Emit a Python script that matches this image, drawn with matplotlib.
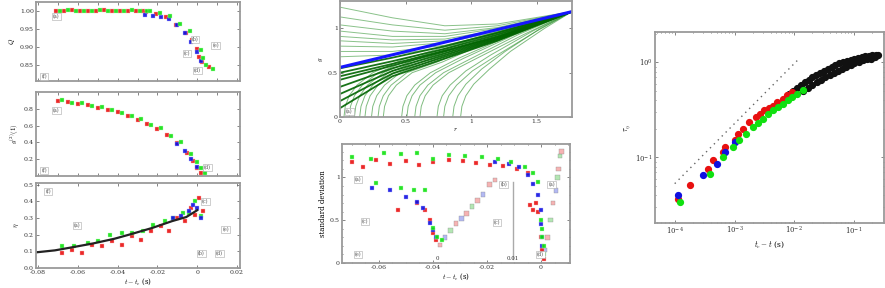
import matplotlib
matplotlib.use("Agg")
import matplotlib.pyplot as plt
import numpy as np

plt.rcParams['font.family'] = 'DejaVu Serif'
plt.rcParams['mathtext.fontset'] = 'cm'

# ---- left column, panel 1
p1_x = [-0.071, -0.067, -0.063, -0.059, -0.055, -0.051, -0.047, -0.043, -0.039,
        -0.035, -0.031, -0.027, -0.0255, -0.0205, -0.0155, -0.0105, -0.0055,
        -0.0025, 0.0, 0.001, 0.0025, 0.006]
p1_red = [1.001, 1.0, 1.002, 1.0, 1.001, 1.0, 1.002, 1.0, 1.001, 1.0, 1.001, 1.0,
          0.998, 0.992, 0.983, 0.962, 0.94, 0.92, 0.893, 0.873, 0.857, 0.843]
p1_green = [1.0, 1.002, 1.0, 1.001, 1.0, 1.002, 1.0, 1.001, 1.0, 1.002, 1.0, 1.001,
            0.999, 0.995, 0.985, 0.965, 0.944, 0.918, 0.89, 0.868, 0.85, 0.838]
p1_blue_x = [-0.026, -0.022, -0.018, -0.014, -0.01, -0.006, -0.003, 0.0, 0.002]
p1_blue = [0.99, 0.985, 0.983, 0.978, 0.962, 0.94, 0.915, 0.887, 0.86]

# ---- left column, panel 2
p2_x = [-0.07, -0.065, -0.06, -0.055, -0.05, -0.045, -0.04, -0.035, -0.03, -0.025,
        -0.02, -0.015, -0.01, -0.005, -0.002, 0.0, 0.002]
p2_red = [0.89, 0.88, 0.86, 0.84, 0.81, 0.79, 0.76, 0.72, 0.67, 0.62, 0.56, 0.49,
          0.39, 0.27, 0.18, 0.1, 0.04]
p2_green = [0.9, 0.87, 0.87, 0.83, 0.82, 0.78, 0.75, 0.71, 0.68, 0.61, 0.57, 0.48,
            0.4, 0.26, 0.17, 0.09, 0.03]
p2_blue_x = [-0.01, -0.006, -0.003, 0.0]
p2_blue = [0.38, 0.3, 0.2, 0.11]

# ---- left column, panel 3
p3_line_x = [-0.081, -0.0715, -0.063, -0.0525, -0.0415, -0.0325, -0.0225, -0.0125,
             -0.0055, 0.0]
p3_line_y = [0.094, 0.106, 0.124, 0.147, 0.176, 0.206, 0.241, 0.282, 0.306, 0.347]
p3_red_x = [-0.068, -0.063, -0.058, -0.053, -0.048, -0.043, -0.038, -0.033, -0.028,
            -0.023, -0.018, -0.014, -0.01, -0.006, -0.003, -0.001, 0.001, 0.003]
p3_red = [0.09, 0.11, 0.09, 0.14, 0.13, 0.16, 0.14, 0.19, 0.17, 0.22, 0.25, 0.22,
          0.3, 0.28, 0.36, 0.32, 0.42, 0.34]
p3_green_x = [-0.068, -0.062, -0.055, -0.05, -0.044, -0.038, -0.033, -0.027, -0.022,
              -0.016, -0.012, -0.007, -0.004, -0.001, 0.002]
p3_green = [0.13, 0.13, 0.15, 0.16, 0.2, 0.21, 0.21, 0.22, 0.26, 0.28, 0.3, 0.33,
            0.33, 0.4, 0.31]
p3_blue_x = [-0.012, -0.008, -0.004, -0.002, 0.0, 0.002]
p3_blue = [0.3, 0.31, 0.34, 0.38, 0.36, 0.3]

# ---- middle top: model curves
blue_x = [0.0, 1.77]
blue_y = [0.56, 1.19]
upper_x = [0.0, 0.4, 0.8, 1.2, 1.77]
upper_y = [[1.24, 1.12, 1.03, 1.05, 1.19],
           [1.13, 1.04, 0.98, 1.03, 1.19],
           [1.04, 0.97, 0.94, 1.01, 1.19],
           [0.97, 0.91, 0.91, 1.00, 1.19],
           [0.91, 0.87, 0.88, 0.98, 1.19],
           [0.86, 0.83, 0.86, 0.97, 1.19],
           [0.80, 0.79, 0.84, 0.96, 1.19],
           [0.74, 0.74, 0.81, 0.95, 1.19],
           [0.68, 0.70, 0.79, 0.94, 1.19]]
mid_y = [[0.55, 0.67, 0.80, 0.95, 1.19],
         [0.50, 0.63, 0.77, 0.93, 1.19],
         [0.46, 0.60, 0.75, 0.91, 1.19],
         [0.42, 0.58, 0.74, 0.90, 1.19],
         [0.34, 0.55, 0.72, 0.89, 1.19],
         [0.26, 0.52, 0.70, 0.88, 1.19],
         [0.18, 0.49, 0.68, 0.87, 1.19],
         [0.10, 0.46, 0.66, 0.86, 1.19]]
lower_x = [[0.03, 0.04, 0.07, 0.13, 0.25, 0.48, 1.0, 1.77],
           [0.07, 0.08, 0.11, 0.17, 0.29, 0.52, 1.0, 1.77],
           [0.11, 0.12, 0.15, 0.21, 0.33, 0.56, 1.0, 1.77],
           [0.15, 0.16, 0.19, 0.25, 0.37, 0.60, 1.05, 1.77],
           [0.19, 0.20, 0.23, 0.29, 0.41, 0.64, 1.05, 1.77],
           [0.24, 0.25, 0.28, 0.34, 0.46, 0.69, 1.10, 1.77],
           [0.29, 0.30, 0.33, 0.39, 0.51, 0.74, 1.10, 1.77],
           [0.33, 0.34, 0.37, 0.43, 0.55, 0.78, 1.15, 1.77],
           [0.47, 0.48, 0.51, 0.57, 0.69, 0.90, 1.30, 1.77],
           [0.51, 0.52, 0.55, 0.61, 0.73, 0.94, 1.32, 1.77],
           [0.57, 0.58, 0.61, 0.67, 0.79, 1.00, 1.36, 1.77],
           [0.61, 0.62, 0.65, 0.71, 0.83, 1.04, 1.40, 1.77],
           [0.74, 0.75, 0.78, 0.84, 0.96, 1.15, 1.47, 1.77],
           [0.79, 0.80, 0.83, 0.89, 1.01, 1.20, 1.50, 1.77],
           [0.86, 0.87, 0.90, 0.96, 1.08, 1.26, 1.53, 1.77],
           [0.92, 0.93, 0.96, 1.02, 1.14, 1.30, 1.56, 1.77]]
lower_y = [[0, 0.12, 0.24, 0.36, 0.50, 0.65, 0.88, 1.19],
           [0, 0.12, 0.24, 0.36, 0.50, 0.64, 0.87, 1.19],
           [0, 0.12, 0.24, 0.36, 0.50, 0.64, 0.86, 1.19],
           [0, 0.12, 0.24, 0.36, 0.50, 0.64, 0.86, 1.19],
           [0, 0.12, 0.24, 0.36, 0.50, 0.63, 0.85, 1.19],
           [0, 0.12, 0.24, 0.36, 0.50, 0.63, 0.86, 1.19],
           [0, 0.12, 0.24, 0.36, 0.50, 0.62, 0.85, 1.19],
           [0, 0.12, 0.24, 0.36, 0.50, 0.62, 0.86, 1.19],
           [0, 0.12, 0.24, 0.36, 0.50, 0.66, 0.92, 1.19],
           [0, 0.12, 0.24, 0.36, 0.50, 0.66, 0.92, 1.19],
           [0, 0.12, 0.24, 0.36, 0.50, 0.66, 0.93, 1.19],
           [0, 0.12, 0.24, 0.36, 0.50, 0.66, 0.93, 1.19],
           [0, 0.12, 0.24, 0.36, 0.52, 0.70, 0.97, 1.19],
           [0, 0.12, 0.24, 0.36, 0.52, 0.70, 0.97, 1.19],
           [0, 0.12, 0.24, 0.37, 0.54, 0.74, 1.00, 1.19],
           [0, 0.12, 0.24, 0.37, 0.54, 0.74, 1.00, 1.19]]

# ---- middle bottom: standard deviation
sd_green_x = [-0.070, -0.063, -0.058, -0.052, -0.046, -0.040, -0.034, -0.028, -0.022,
              -0.016, -0.011, -0.006, -0.003, -0.001, 0.0, 0.0005, 0.0005, 0.001, 0.001,
              -0.061, -0.052, -0.047, -0.043, -0.040, -0.0385, -0.0367]
sd_green = [1.24, 1.22, 1.28, 1.27, 1.29, 1.21, 1.26, 1.25, 1.24, 1.22, 1.18, 1.12,
            1.05, 0.95, 0.5, 0.4, 0.3, 0.2, 0.1,
            0.93, 0.88, 0.85, 0.85, 0.41, 0.30, 0.27]
sd_red_x = [-0.070, -0.066, -0.061, -0.056, -0.050, -0.045, -0.040, -0.034, -0.029,
            -0.024, -0.019, -0.014, -0.009, -0.005, -0.004, -0.003, -0.002, -0.001,
            0.0, 0.0005, 0.001, -0.053, -0.046, -0.043, -0.041, -0.040, -0.039]
sd_red = [1.18, 1.12, 1.2, 1.16, 1.19, 1.14, 1.18, 1.2, 1.19, 1.17, 1.15, 1.13, 1.1,
          1.05, 0.68, 0.62, 0.7, 0.6, 0.3, 0.15, 0.05,
          0.62, 0.7, 0.62, 0.5, 0.35, 0.27]
sd_blue_x = [-0.017, -0.012, -0.008, -0.005, -0.003, -0.001, 0.0, 0.0, 0.0005, 0.0005,
             -0.0626, -0.056, -0.050, -0.046, -0.0437, -0.041, -0.040, -0.039]
sd_blue = [1.18, 1.16, 1.12, 1.03, 0.92, 0.8, 0.62, 0.45, 0.3, 0.2,
           0.88, 0.85, 0.77, 0.71, 0.64, 0.47, 0.38, 0.30]
sd_faded_x = [-0.0374, -0.0355, -0.0335, -0.0315, -0.0295, -0.0275, -0.0255, -0.0235,
              -0.0215, -0.019, -0.017, 0.0015, 0.0025, 0.0035, 0.0045, 0.0055, 0.006,
              0.0065, 0.007, 0.0075]
sd_faded = [0.21, 0.3, 0.38, 0.46, 0.52, 0.58, 0.66, 0.73, 0.8, 0.92, 0.97,
            0.15, 0.3, 0.5, 0.7, 0.85, 1.0, 1.1, 1.25, 1.3]
sd_faded_c = ['#f4a0a0', '#a0a8f0', '#a0e0a0', '#f4a0a0', '#a0a8f0', '#f4a0a0',
              '#a0e0a0', '#f4a0a0', '#a0a8f0', '#f4a0a0', '#f4a0a0',
              '#a0a8f0', '#f4a0a0', '#a0e0a0', '#f4a0a0', '#a0a8f0', '#a0e0a0',
              '#f4a0a0', '#a0e0a0', '#f4a0a0']

# ---- right: log-log
dot_x = [1e-4, 0.0121]
dot_y = [0.053, 1.10]
red_x = [1.13e-4, 1.78e-4, 3.59e-4, 4.36e-4, 6.38e-4, 6.8e-4, 1e-3, 1.13e-3, 1.38e-3,
         1.78e-3, 2.3e-3, 2.7e-3, 3.16e-3, 3.7e-3, 4.35e-3, 5.2e-3, 6.4e-3, 7.6e-3, 9.3e-3]
red_y = [0.0367, 0.0507, 0.076, 0.093, 0.114, 0.128, 0.151, 0.177, 0.2, 0.235, 0.266,
         0.29, 0.313, 0.332, 0.352, 0.383, 0.415, 0.45, 0.487]
green_x = [1.21e-4, 3.83e-4, 6.4e-4, 9.3e-4, 1.21e-3, 1.58e-3, 2.02e-3, 2.45e-3, 2.95e-3,
           3.6e-3, 4.35e-3, 5.3e-3, 6.4e-3, 7.7e-3, 9.3e-3, 0.0113, 0.0138]
green_y = [0.0338, 0.0673, 0.101, 0.128, 0.151, 0.177, 0.209, 0.232, 0.255, 0.284,
           0.313, 0.34, 0.367, 0.4, 0.438, 0.47, 0.507]
blue_pts_x = [1.13e-4, 2.96e-4, 5e-4, 6.8e-4, 1e-3]
blue_pts_y = [0.04, 0.065, 0.085, 0.114, 0.145]
black_x = [0.008, 0.0095, 0.011, 0.013, 0.015, 0.0175, 0.02, 0.023, 0.027, 0.031, 0.036,
           0.042, 0.048, 0.056, 0.065, 0.075, 0.087, 0.1, 0.115, 0.133, 0.153, 0.177,
           0.2, 0.23, 0.25,
           0.014, 0.017, 0.02, 0.024, 0.028, 0.033, 0.039, 0.046, 0.054, 0.063, 0.074,
           0.087, 0.1, 0.12, 0.14, 0.165, 0.19, 0.22]
black_y = [0.46, 0.5, 0.54, 0.58, 0.62, 0.66, 0.7, 0.74, 0.78, 0.82, 0.86, 0.9, 0.94,
           0.98, 1.01, 1.04, 1.07, 1.1, 1.12, 1.14, 1.16, 1.18, 1.19, 1.2, 1.21,
           0.5, 0.54, 0.58, 0.62, 0.66, 0.7, 0.74, 0.78, 0.82, 0.86, 0.9, 0.94, 0.98,
           1.02, 1.05, 1.08, 1.1, 1.13]

RED, GREEN, BLUE = '#e81010', '#10e010', '#1010e0'
FRAME = '#9a9a9a'


def style(ax, labelsize=4.5):
    for s in ax.spines.values():
        s.set_color(FRAME)
        s.set_linewidth(1.3)
    ax.tick_params(direction='in', which='both', top=True, right=True, length=2,
                   width=0.5, colors='#555555', labelsize=labelsize, pad=1.5,
                   labelcolor='#333333')
    ax.tick_params(which='minor', length=1)


def tag(ax, x, y, s):
    ax.text(x, y, s, transform=ax.transAxes, fontsize=3.5, color='#555555',
            ha='center', va='center',
            bbox=dict(boxstyle='square,pad=0.2', fc='white', ec='#aaaaaa', lw=0.4))


sq = dict(marker='s', ms=3.5, ls='none', mew=0.3, alpha=0.9)

fig = plt.figure(figsize=(8.85, 2.88), dpi=100)

# left column
ax1 = fig.add_axes([0.0407, 0.7188, 0.2305, 0.274])
ax1.plot(p1_x, p1_red, color=RED, mec='#ffb0b0', **sq)
ax1.plot(p1_blue_x, p1_blue, color=BLUE, mec='#b0b0ff', **sq)
ax1.plot(np.array(p1_x) + 0.002, p1_green, color=GREEN, mec='#b0ffb0', **sq)
ax1.set_xlim(-0.081, 0.0215)
ax1.set_ylim(0.805, 1.025)
ax1.set_yticks([0.85, 0.9, 0.95, 1.0])
ax1.set_xticks(np.arange(-0.08, 0.021, 0.01))
ax1.set_xticklabels([])
ax1.set_ylabel(r'$Q$', fontsize=5, labelpad=2)
style(ax1)
tag(ax1, 0.1, 0.82, '(a)')
tag(ax1, 0.74, 0.35, '(c)')
tag(ax1, 0.78, 0.52, '(b)')
tag(ax1, 0.88, 0.45, '(e)')
tag(ax1, 0.79, 0.13, '(d)')
tag(ax1, 0.04, 0.06, '(f)')

ax2 = fig.add_axes([0.0407, 0.3889, 0.2305, 0.2917])
ax2.plot(p2_x, p2_red, color=RED, mec='#ffb0b0', **sq)
ax2.plot(p2_blue_x, p2_blue, color=BLUE, mec='#b0b0ff', **sq)
ax2.plot(np.array(p2_x) + 0.002, p2_green, color=GREEN, mec='#b0ffb0', **sq)
ax2.set_xlim(-0.081, 0.0215)
ax2.set_ylim(0, 1.0)
ax2.set_yticks([0.2, 0.4, 0.6, 0.8])
ax2.set_xticks(np.arange(-0.08, 0.021, 0.01))
ax2.set_xticklabels([])
ax2.set_ylabel(r'$g^{(2)}(1)$', fontsize=5, labelpad=2)
style(ax2)
tag(ax2, 0.1, 0.78, '(a)')
tag(ax2, 0.84, 0.1, '(d)')
tag(ax2, 0.04, 0.06, '(f)')

ax3 = fig.add_axes([0.0407, 0.0694, 0.2305, 0.295])
ax3.plot(p3_red_x, p3_red, color=RED, mec='#ffb0b0', **sq)
ax3.plot(p3_green_x, p3_green, color=GREEN, mec='#b0ffb0', **sq)
ax3.plot(p3_blue_x, p3_blue, color=BLUE, mec='#b0b0ff', **sq)
ax3.plot(p3_line_x, p3_line_y, color='#222222', lw=1.6)
ax3.set_xlim(-0.081, 0.0215)
ax3.set_ylim(0, 0.51)
ax3.set_yticks([0, 0.1, 0.2, 0.3, 0.4, 0.5])
ax3.set_xticks([-0.08, -0.06, -0.04, -0.02, 0, 0.02])
ax3.set_xticklabels(['-0.08', '-0.06', '-0.04', '-0.02', '0', '0.02'])
ax3.set_xlabel(r'$t - t_c$ (s)', fontsize=5, labelpad=1)
ax3.set_ylabel(r'$\eta$', fontsize=5, labelpad=2)
style(ax3)
tag(ax3, 0.06, 0.9, '(f)')
tag(ax3, 0.2, 0.5, '(a)')
tag(ax3, 0.83, 0.78, '(c)')
tag(ax3, 0.93, 0.45, '(e)')
tag(ax3, 0.81, 0.17, '(b)')
tag(ax3, 0.9, 0.17, '(d)')

# middle top
ax4 = fig.add_axes([0.3842, 0.5938, 0.2621, 0.4028])
for ys in upper_y:
    ax4.plot(upper_x, ys, color='#2a902a', lw=0.7, alpha=0.55)
for xs, ys in zip(lower_x, lower_y):
    ax4.plot(xs, ys, color='#2a902a', lw=0.7, alpha=0.6)
for ys in mid_y:
    ax4.plot(upper_x, ys, color='#006400', lw=1.3, alpha=0.9)
ax4.plot(blue_x, blue_y, color='#1515ff', lw=2.2)
ax4.set_xlim(0, 1.77)
ax4.set_ylim(0, 1.31)
ax4.set_xticks([0, 0.5, 1, 1.5])
ax4.set_xticklabels(['0', '0.5', '1', '1.5'])
ax4.set_yticks([0, 0.5, 1])
ax4.set_yticklabels(['0', '0.5', '1'])
ax4.set_xlabel(r'$r$', fontsize=5, labelpad=1)
ax4.set_ylabel(r'$g$', fontsize=5, labelpad=2)
style(ax4)
tag(ax4, 0.04, 0.05, '(a)')

# middle bottom
ax5 = fig.add_axes([0.3864, 0.0868, 0.2576, 0.4132])
ax5.scatter(sd_faded_x, sd_faded, marker='s', s=11, c=sd_faded_c, edgecolors='#888888',
            linewidths=0.3, alpha=0.8, zorder=2)
ax5.plot(sd_red_x, sd_red, color=RED, mec='#ffb0b0', zorder=3, **sq)
ax5.plot(sd_blue_x, sd_blue, color=BLUE, mec='#b0b0ff', zorder=3, **sq)
ax5.plot(sd_green_x, sd_green, color=GREEN, mec='#b0ffb0', zorder=3, **sq)
ax5.axvline(-0.0103, ymin=0.03, ymax=0.68, color='#aaaaaa', lw=1.0)
ax5.set_xlim(-0.0737, 0.0107)
ax5.set_ylim(0, 1.39)
ax5.set_xticks([-0.06, -0.04, -0.02, 0])
ax5.set_xticklabels(['-0.06', '-0.04', '-0.02', '0'])
ax5.set_yticks([0, 0.5, 1])
ax5.set_yticklabels(['0', '0.5', '1'])
ax5.minorticks_on()
ax5.set_xlabel(r'$t - t_c$ (s)', fontsize=5, labelpad=1)
ax5.set_ylabel('standard deviation', fontsize=5, labelpad=2)
style(ax5)
ax5.text(-0.0385, 0.04, '0', fontsize=4, color='#333333', ha='center')
ax5.text(-0.0105, 0.04, '0.01', fontsize=4, color='#333333', ha='center')
tag(ax5, 0.07, 0.7, '(a)')
tag(ax5, 0.71, 0.66, '(b)')
tag(ax5, 0.92, 0.66, '(a)')
tag(ax5, 0.68, 0.34, '(c)')
tag(ax5, 0.87, 0.07, '(d)')
tag(ax5, 0.1, 0.35, '(c)')
tag(ax5, 0.07, 0.07, '(e)')

# right
ax6 = fig.add_axes([0.7401, 0.2257, 0.2588, 0.663])
ax6.plot(dot_x, dot_y, ls=(0, (1, 3)), color='#666666', lw=1.0)
ax6.plot(black_x, black_y, marker='o', ms=4.2, ls='none', color='#111111')
ax6.plot(red_x, red_y, marker='o', ms=4.2, ls='none', color=RED)
ax6.plot(blue_pts_x, blue_pts_y, marker='o', ms=4.2, ls='none', color=BLUE)
ax6.plot(green_x, green_y, marker='o', ms=4.2, ls='none', color=GREEN)
ax6.set_xscale('log')
ax6.set_yscale('log')
ax6.set_xlim(10 ** -4.33, 10 ** -0.5)
ax6.set_ylim(10 ** -1.69, 10 ** 0.32)
ax6.set_xticks([1e-4, 1e-3, 1e-2, 1e-1])
ax6.set_yticks([1e-1, 1])
ax6.set_xlabel(r'$t_c - t$ (s)', fontsize=5.5, labelpad=2)
ax6.set_ylabel(r'$\tau_\eta$', fontsize=5.5, labelpad=2)
style(ax6, labelsize=5)

fig.savefig('out.png', dpi=100)
